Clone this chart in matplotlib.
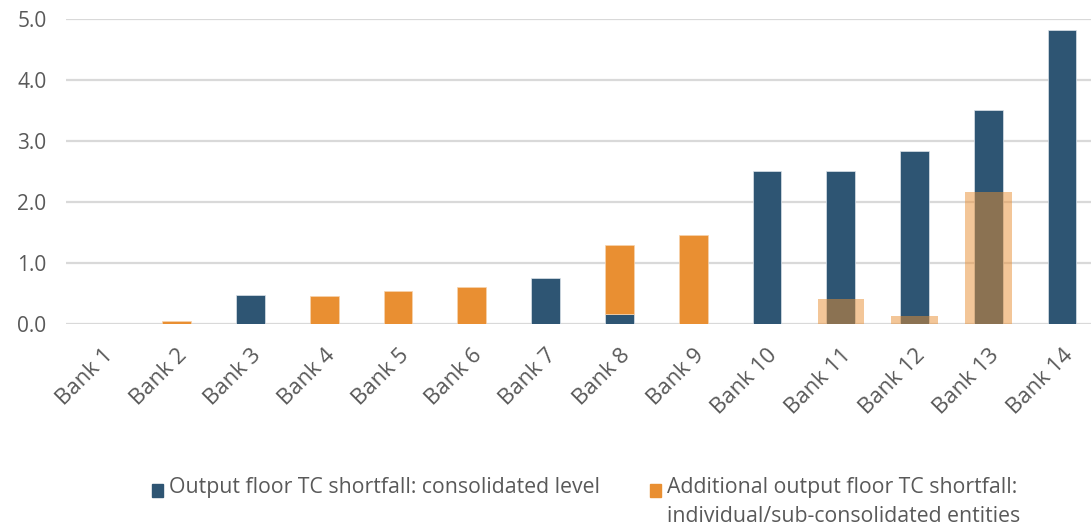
import numpy as np
import matplotlib.pyplot as plt
from matplotlib.patches import Rectangle

banks = ["Bank %d" % i for i in range(1, 15)]
consolidated = [0, 0, 0.47, 0, 0, 0, 0.75, 0.16, 0, 2.51, 2.51, 2.84, 3.51, 4.82]
additional = [0, 0.05, 0, 0.46, 0.54, 0.61, 0, 1.14, 1.46, 0, 0, 0, 0, 0]
additional_within = [0, 0, 0, 0, 0, 0, 0, 0, 0, 0, 0.41, 0.13, 2.16, 0]
yticks = [0.0, 1.0, 2.0, 3.0, 4.0, 5.0]

blue = "#2E5573"
orange = "#E98F32"
grey = "#595959"
plt.rcParams['font.family'] = ['Open Sans', 'DejaVu Sans']

W, H = 1091, 529
fig = plt.figure(figsize=(W / 100, H / 100), dpi=100)
# axis box runs a little past the right edge of the figure
ax = fig.add_axes([66 / W, 1 - 324 / H, (1099 - 66) / W, 305 / H])


def edge_widths(vals, lw):
    # no outline on empty bars, otherwise a hairline shows at the base
    return [lw if v else 0 for v in vals]


x = np.arange(len(banks))
ax.bar(x, consolidated, width=0.39, color=blue, edgecolor="#DCE3EA",
       linewidth=edge_widths(consolidated, 0.5), zorder=3)
ax.bar(x, additional, width=0.39, bottom=consolidated, color=orange,
       edgecolor="#F6D3AE", linewidth=edge_widths(additional, 0.5), zorder=3)
ax.bar(x, additional_within, width=0.63, color=orange, alpha=0.5,
       edgecolor="none", zorder=4)

ax.set_xlim(-0.5, 13.5)
ax.set_ylim(0, 5)
ax.set_yticks(yticks)
ax.set_yticklabels(["%.1f" % v for v in yticks], fontsize=15, color=grey)
ax.set_xticks(x)
ax.set_xticklabels(banks, rotation=45, ha="right", rotation_mode="anchor",
                   fontsize=16, color=grey)
ax.tick_params(axis="y", length=0, pad=14)
ax.tick_params(axis="x", length=0, pad=15)
ax.grid(axis="y", color="#D9D9D9", linewidth=1.6, zorder=0)
for s in ax.spines.values():
    s.set_visible(False)

# legend drawn by hand so the square lines up with the first text line
legend_items = [
    (152, blue, "Output floor TC shortfall: consolidated level"),
    (650, orange, "Additional output floor TC shortfall:\nindividual/sub-consolidated entities"),
]
for px, col, label in legend_items:
    fig.patches.append(Rectangle((px / W, 1 - 497 / H), 11 / W, 13 / H,
                                 transform=fig.transFigure, color=col))
    fig.text((px + 17) / W, 1 - 477 / H, label, fontsize=15.3, color=grey,
             va="top", ha="left", linespacing=1.5)

fig.savefig("out.png", dpi=100)
